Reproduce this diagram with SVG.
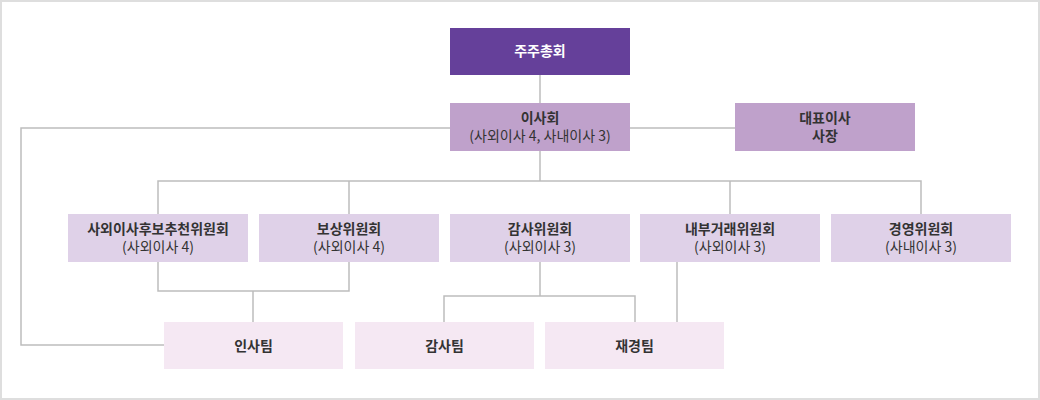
<svg xmlns="http://www.w3.org/2000/svg" width="1040" height="400" viewBox="0 0 1040 400">
<style>
text{font-family:"Noto Sans CJK KR","Noto Sans",sans-serif;font-size:14px;text-anchor:middle;fill:#333}
.b{font-weight:bold}
.w{fill:#fff}
.c{fill:none;stroke:#bdbdbd;stroke-width:1.5}
.l1{fill:#65409a}.l2{fill:#bfa1cb}.l3{fill:#dfd1e8}.l4{fill:#f5e8f3}
</style>
<rect x="1" y="1" width="1038" height="398" fill="#fff" stroke="#dedede" stroke-width="2"/>
<g id="connectors" class="c">
<path d="M540 75V103"/>
<path d="M630 128H735"/>
<path d="M450 128H21V345H164"/>
<path d="M540 151V181M158 214V181H921V214M349 181V214M730 181V214"/>
<path d="M158 262V291H349V262M253 291V322"/>
<path d="M540 262V296M444 322V296H635V322"/>
<path d="M677 262V322"/>
</g>
<g id="n-shareholders"><rect class="l1" x="450" y="28" width="180" height="47"/><text class="b w" x="540" y="56">주주총회</text></g>
<g id="n-board"><rect class="l2" x="450" y="103" width="180" height="48"/><text class="b" x="540" y="123">이사회</text><text x="540" y="141">(사외이사 4, 사내이사 3)</text></g>
<g id="n-ceo"><rect class="l2" x="735" y="103" width="180" height="48"/><text class="b" x="825" y="123">대표이사</text><text class="b" x="825" y="141">사장</text></g>
<g id="n-nom"><rect class="l3" x="68" y="214" width="180" height="48"/><text class="b" x="158" y="234">사외이사후보추천위원회</text><text x="158" y="252">(사외이사 4)</text></g>
<g id="n-comp"><rect class="l3" x="259" y="214" width="180" height="48"/><text class="b" x="349" y="234">보상위원회</text><text x="349" y="252">(사외이사 4)</text></g>
<g id="n-audit"><rect class="l3" x="450" y="214" width="180" height="48"/><text class="b" x="540" y="234">감사위원회</text><text x="540" y="252">(사외이사 3)</text></g>
<g id="n-internal"><rect class="l3" x="640" y="214" width="180" height="48"/><text class="b" x="730" y="234">내부거래위원회</text><text x="730" y="252">(사외이사 3)</text></g>
<g id="n-mgmt"><rect class="l3" x="831" y="214" width="180" height="48"/><text class="b" x="921" y="234">경영위원회</text><text x="921" y="252">(사내이사 3)</text></g>
<g id="n-hr"><rect class="l4" x="164" y="322" width="179" height="47"/><text class="b" x="253.5" y="350.5">인사팀</text></g>
<g id="n-auditteam"><rect class="l4" x="355" y="322" width="179" height="47"/><text class="b" x="444.5" y="350.5">감사팀</text></g>
<g id="n-finance"><rect class="l4" x="545" y="322" width="179" height="47"/><text class="b" x="634.5" y="350.5">재경팀</text></g>
</svg>
